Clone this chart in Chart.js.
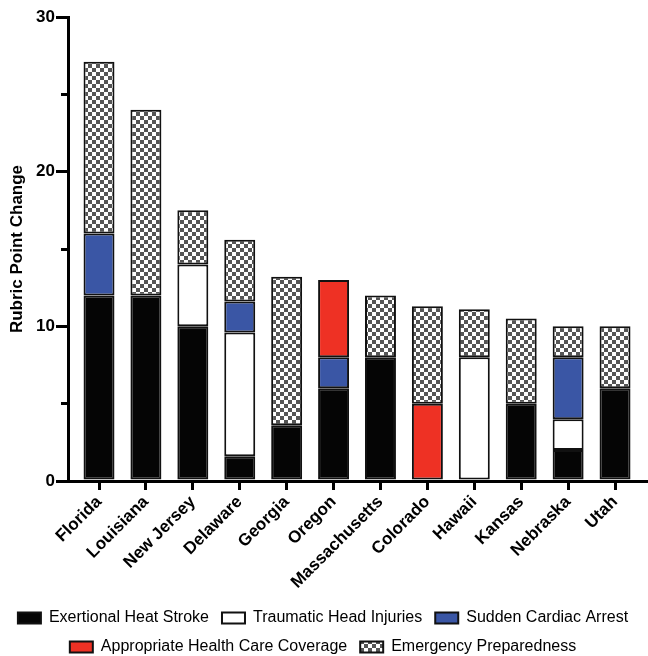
<!DOCTYPE html>
<html>
<head>
    <title>Rubric Point Change by State</title>
    <script src="https://cdn.jsdelivr.net/npm/chart.js@4/dist/chart.umd.min.js"></script>
    <style>
        body {
            margin: 0;
            background-color: white;
        }
        .chart-container {
            width: 648px;
            height: 656px;
        }
    </style>
</head>
<body>
    <div class="chart-container">
        <canvas id="rubricChart"></canvas>
    </div>

    <script>
        const categories = ['Florida', 'Louisiana', 'New Jersey', 'Delaware', 'Georgia', 'Oregon',
            'Massachusetts', 'Colorado', 'Hawaii', 'Kansas', 'Nebraska', 'Utah'];

        const heatStroke    = [12, 12, 10, 1.6, 3.6, 6, 8, null, null, 5, 2, 6];
        const headInjuries  = [null, null, 4, 8, null, null, null, null, 8, null, 2, null];
        const cardiacArrest = [4, null, null, 2, null, 2, null, null, null, null, 4, null];
        const healthCare    = [null, null, null, null, null, 5, null, 5, null, null, null, null];
        const preparedness  = [11.1, 12, 3.5, 4, 9.6, null, 4, 6.3, 3.1, 5.5, 2, 4];

        const yTicks = [0, 10, 20, 30];

        // grey/white checkerboard for the emergency preparedness segments
        function checker() {
            const c = document.createElement('canvas');
            c.width = 8;
            c.height = 8;
            const g = c.getContext('2d');
            g.fillStyle = '#ffffff';
            g.fillRect(0, 0, 8, 8);
            g.fillStyle = '#555555';
            g.fillRect(0, 0, 4, 4);
            g.fillRect(4, 4, 4, 4);
            return g.createPattern(c, 'repeat');
        }

        Chart.defaults.font.family = '"Liberation Sans", Arial, sans-serif';
        Chart.defaults.color = '#000';

        function series(label, data, fill) {
            return {
                label: label,
                data: data,
                backgroundColor: fill,
                borderColor: '#111',
                borderWidth: 2,
                borderSkipped: false,
                barPercentage: 0.66,
                categoryPercentage: 1
            };
        }

        new Chart(document.getElementById('rubricChart'), {
            type: 'bar',
            data: {
                labels: categories.map((_, i) => i),
                datasets: [
                    series('Exertional Heat Stroke', heatStroke, '#050505'),
                    series('Traumatic Head Injuries', headInjuries, '#ffffff'),
                    series('Sudden Cardiac Arrest', cardiacArrest, '#3a56a5'),
                    series('Appropriate Health Care Coverage', healthCare, '#ee3124'),
                    series('Emergency Preparedness', preparedness, checker())
                ]
            },
            options: {
                responsive: true,
                maintainAspectRatio: false,
                animation: false,
                layout: {
                    padding: { top: 17, right: 2, left: 0, bottom: -9 }
                },
                plugins: {
                    tooltip: { enabled: false },
                    legend: {
                        position: 'bottom',
                        labels: {
                            boxWidth: 23,
                            boxHeight: 11,
                            padding: 13,
                            color: '#000',
                            font: { size: 16 }
                        }
                    }
                },
                scales: {
                    x: {
                        type: 'linear',
                        stacked: true,
                        min: -0.661,
                        max: 11.66,
                        offset: false,
                        afterFit: (scale) => { scale.height = 116; },
                        grid: {
                            offset: false,
                            drawOnChartArea: false,
                            drawTicks: true,
                            tickLength: 9,
                            color: '#000',
                            lineWidth: 3
                        },
                        border: { color: '#000', width: 3 },
                        ticks: {
                            stepSize: 1,
                            includeBounds: false,
                            autoSkip: false,
                            minRotation: 45,
                            maxRotation: 45,
                            padding: 2,
                            color: '#000',
                            font: { size: 17, weight: 'bold' },
                            callback: (v) => categories[v] ?? ''
                        }
                    },
                    y: {
                        stacked: true,
                        min: 0,
                        max: 30,
                        afterFit: (scale) => { scale.width = 68; },
                        grid: {
                            drawOnChartArea: false,
                            drawTicks: true,
                            tickLength: 12,
                            // minor ticks (5, 15, 25) are shorter: skip their outer part
                            tickBorderDash: (ctx) => yTicks.includes(ctx.tick.value) ? [] : [12, 5],
                            tickBorderDashOffset: 12,
                            color: '#000',
                            lineWidth: 3
                        },
                        border: { color: '#000', width: 3 },
                        ticks: {
                            stepSize: 5,
                            padding: 1,
                            color: '#000',
                            font: { size: 17, weight: 'bold' },
                            callback: (v) => yTicks.includes(v) ? v : ''
                        },
                        title: {
                            display: true,
                            text: 'Rubric Point Change',
                            color: '#000',
                            padding: 7,
                            font: { size: 17, weight: 'bold' }
                        }
                    }
                }
            }
        });
    </script>
</body>
</html>
